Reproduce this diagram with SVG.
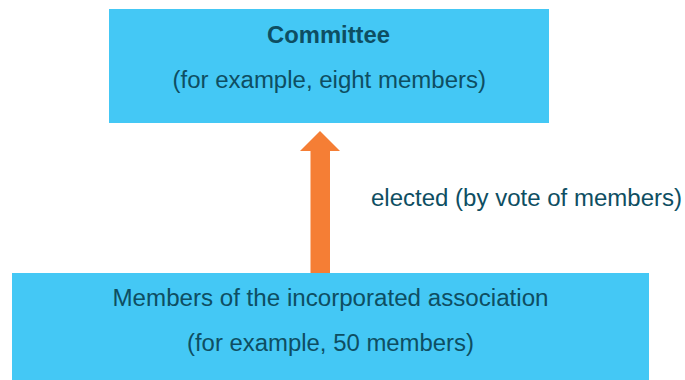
<svg xmlns="http://www.w3.org/2000/svg" width="685" height="380" viewBox="0 0 685 380">
  <style>
    .box { fill: #44C8F5; }
    .label { font-family: "Liberation Sans", Arial, sans-serif; font-size: 23px; fill: #0E4E62; }
    .title { font-weight: bold; font-size: 24px; }
    .arrow { fill: #F57E35; }
  </style>
  <rect width="685" height="380" fill="#FFFFFF"/>

  <g id="connectors">
    <path class="arrow" d="M310.5 273 L310.5 151 L300 151 L320 131 L340 151 L330 151 L330 273 Z"/>
    <text class="label" x="371" y="206" textLength="311" lengthAdjust="spacingAndGlyphs">elected (by vote of members)</text>
  </g>

  <g id="committee">
    <rect class="box" x="109" y="9" width="440" height="114"/>
    <text class="label title" x="267" y="43" textLength="123" lengthAdjust="spacingAndGlyphs">Committee</text>
    <text class="label" x="172.5" y="88" textLength="313.5" lengthAdjust="spacingAndGlyphs">(for example, eight members)</text>
  </g>

  <g id="members">
    <rect class="box" x="12" y="273" width="637" height="107"/>
    <text class="label" x="112.5" y="306" textLength="436" lengthAdjust="spacingAndGlyphs">Members of the incorporated association</text>
    <text class="label" x="187" y="351" textLength="287" lengthAdjust="spacingAndGlyphs">(for example, 50 members)</text>
  </g>
</svg>
